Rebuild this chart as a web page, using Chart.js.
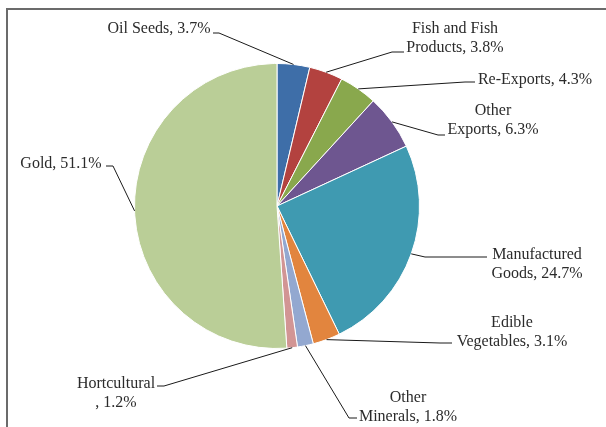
<!DOCTYPE html>
<html>
<head>
<meta charset="utf-8">
<script src="https://cdn.jsdelivr.net/npm/chart.js@4/dist/chart.umd.min.js"></script>
<style>
  html, body { margin: 0; padding: 0; background: #fff; overflow: hidden; }
  #pie { display: block; }
</style>
</head>
<body>
<canvas id="pie" width="606" height="427"></canvas>
<script>
// export shares, clockwise from 12 o'clock
const categories = ["Oil Seeds", "Fish and Fish Products", "Re-Exports", "Other Exports",
  "Manufactured Goods", "Edible Vegetables", "Other Minerals", "Hortcultural", "Gold"];
const shares = [3.7, 3.8, 4.3, 6.3, 24.7, 3.1, 1.8, 1.2, 51.1];
const colors = ["#3E6EA8", "#B3423F", "#89A84D", "#6E5690", "#3F9AB1", "#E2853E",
  "#93A8D0", "#D29594", "#BACE97"];

// where each label goes: first-line length (0 = single line), centre x, first line y
const wrapAt = [0, 13, 0, 5, 12, 6, 5, 12, 0];
const labelPos = [[159, 29], [455, 29], [535, 80], [493, 111], [537, 255],
  [512, 323], [408, 398], [116, 384], [61, 164]];
// leader stub next to each label (label end first)
const stubs = [
  [[213, 33], [219, 33]],
  [[404, 52], [392, 52]],
  [[475, 82], [465, 82]],
  [[445, 135], [438, 135]],
  [[487, 257], [425, 257]],
  [[452, 343], [440, 343]],
  [[357, 418], [349, 418]],
  [[157, 386], [164, 386]],
  [[106, 166], [113, 166]]
];

function labelLines(i) {
  const txt = categories[i] + ", " + shares[i].toFixed(1) + "%";
  const n = wrapAt[i];
  if (!n) return [txt];
  return [txt.slice(0, n), txt.slice(n).replace(/^ +/, "")];
}

// frame round the chart (left and top edges show)
const framePlugin = {
  id: "frame",
  beforeDraw(chart) {
    const ctx = chart.ctx;
    ctx.save();
    ctx.strokeStyle = "#6b6b6b";
    ctx.lineWidth = 2;
    ctx.beginPath();
    ctx.moveTo(7, 427);
    ctx.lineTo(7, 9);
    ctx.lineTo(606, 9);
    ctx.stroke();
    ctx.restore();
  }
};

// data labels with leader lines
const labelPlugin = {
  id: "pieLabels",
  afterDatasetsDraw(chart) {
    const ctx = chart.ctx;
    const arcs = chart.getDatasetMeta(0).data;
    ctx.save();
    ctx.strokeStyle = "#1a1a1a";
    ctx.lineWidth = 1;
    arcs.forEach((arc, i) => {
      const p = arc.getProps(["x", "y", "startAngle", "endAngle", "outerRadius"], true);
      const mid = (p.startAngle + p.endAngle) / 2;
      const ax = p.x + Math.cos(mid) * p.outerRadius;
      const ay = p.y + Math.sin(mid) * p.outerRadius;
      const s = stubs[i];
      ctx.beginPath();
      ctx.moveTo(s[0][0], s[0][1]);
      ctx.lineTo(s[1][0], s[1][1]);
      ctx.lineTo(ax, ay);
      ctx.stroke();
    });
    ctx.fillStyle = "#2b2b2b";
    ctx.font = "16px 'Liberation Serif', 'Times New Roman', serif";
    ctx.textAlign = "center";
    ctx.textBaseline = "middle";
    arcs.forEach((arc, i) => {
      labelLines(i).forEach((line, k) => {
        ctx.fillText(line, labelPos[i][0], labelPos[i][1] + k * 19);
      });
    });
    ctx.restore();
  }
};

new Chart(document.getElementById("pie"), {
  type: "pie",
  data: {
    labels: categories,
    datasets: [{
      data: shares,
      backgroundColor: colors,
      borderColor: "#ffffff",
      borderWidth: 1
    }]
  },
  options: {
    responsive: false,
    animation: false,
    layout: { padding: { left: 134, right: 186, top: 63, bottom: 78 } },
    plugins: {
      legend: { display: false },
      tooltip: { enabled: false }
    }
  },
  plugins: [framePlugin, labelPlugin]
});
</script>
</body>
</html>
